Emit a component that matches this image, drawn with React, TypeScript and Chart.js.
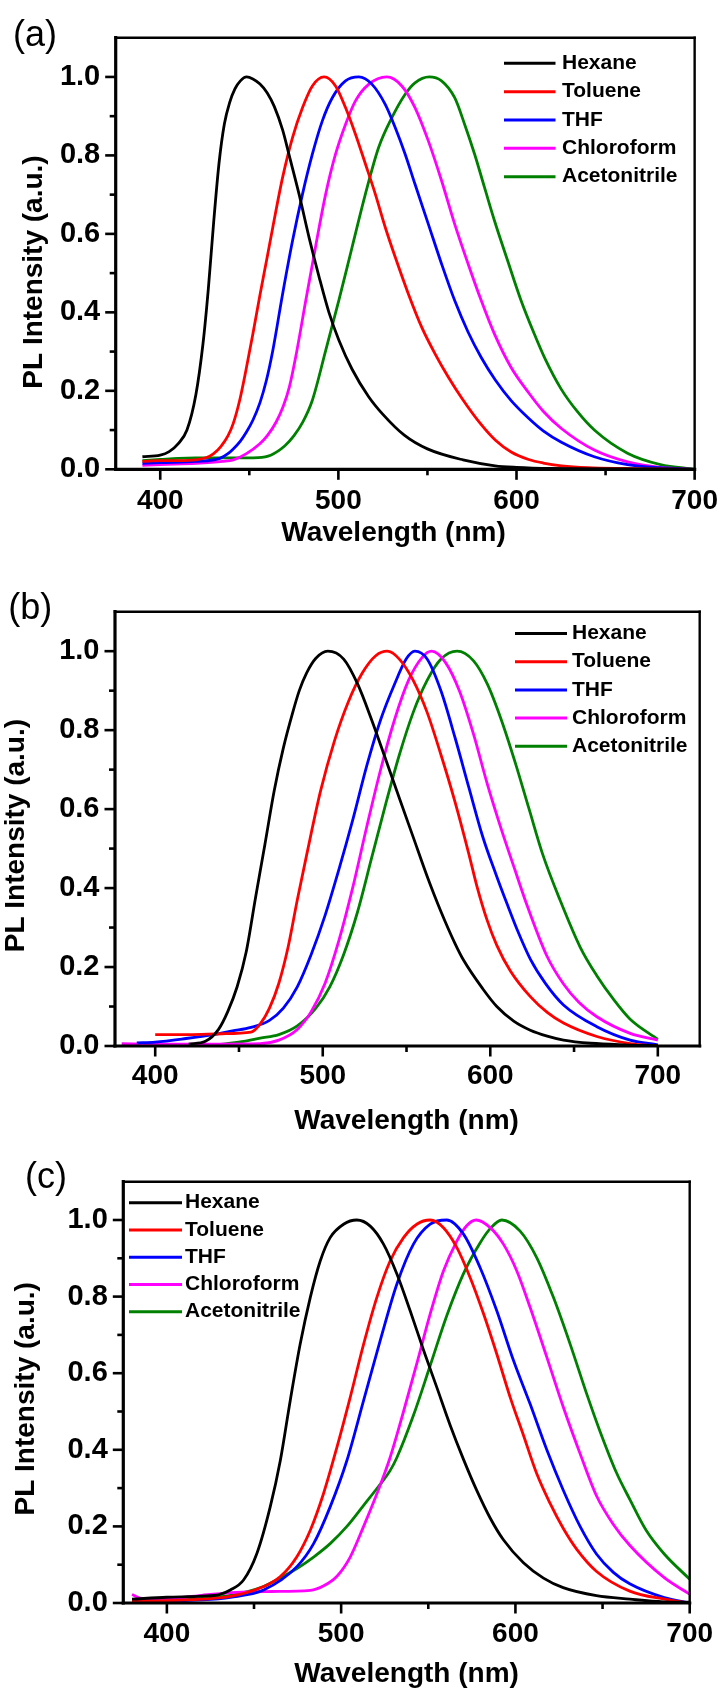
import React, { useEffect, useRef } from "react";
import { Chart, registerables } from "chart.js";

Chart.register(...registerables);

// ---------- text & ticks ----------
const SOLVENTS = ["Hexane", "Toluene", "THF", "Chloroform", "Acetonitrile"];
const COLORS = ["#000000", "#ff0000", "#0000ff", "#ff00ff", "#008000"];
const X_TICKS = [400, 500, 600, 700];
const X_MINOR_TICKS = [450, 550, 650];
const Y_TICKS = [0, 0.2, 0.4, 0.6, 0.8, 1.0];
const Y_MINOR_TICKS = [0.1, 0.3, 0.5, 0.7, 0.9];
const Y_MAX = 1.1;
const X_TITLE = "Wavelength (nm)";
const Y_TITLE = "PL Intensity (a.u.)";
const PANEL_LABELS = ["(a)", "(b)", "(c)"];
const X_RANGES = [
  [375, 700],
  [376, 725],
  [375, 700],
];

// ---------- panel (a) ----------
const A_HEX_X = [390, 400, 405, 410, 415, 420, 424, 427, 430, 433, 436, 439, 442, 445, 448.5, 452, 456, 460, 464, 468.7, 472.4, 478, 483.6, 489.2, 494.7, 500.3, 507.7, 517, 525, 537, 550, 570, 588, 600, 620, 650, 700];
const A_HEX_Y = [0.032, 0.036, 0.045, 0.065, 0.1, 0.19, 0.32, 0.46, 0.63, 0.78, 0.88, 0.935, 0.97, 0.99, 1.0, 0.995, 0.982, 0.96, 0.925, 0.865, 0.8, 0.7, 0.59, 0.49, 0.4, 0.329, 0.255, 0.185, 0.14, 0.087, 0.052, 0.024, 0.009, 0.005, 0.002, 0.001, 0];
const A_TOL_X = [390, 400, 410, 420, 426, 430, 434, 438, 441, 444.6, 448, 452, 455.8, 460, 463.2, 468.7, 474.3, 479.9, 485.4, 492, 498.4, 504, 509.6, 515.2, 520.7, 526.3, 531.9, 539.3, 546.7, 554.2, 561.6, 569.5, 580, 588.2, 597, 606.8, 615, 625.2, 640, 660, 680, 700];
const A_TOL_Y = [0.02, 0.022, 0.022, 0.024, 0.03, 0.04, 0.058, 0.085, 0.117, 0.176, 0.25, 0.345, 0.44, 0.54, 0.617, 0.744, 0.846, 0.922, 0.977, 1.0, 0.977, 0.922, 0.854, 0.778, 0.702, 0.617, 0.541, 0.447, 0.363, 0.295, 0.236, 0.18, 0.115, 0.074, 0.044, 0.025, 0.016, 0.009, 0.004, 0.002, 0.001, 0];
const A_THF_X = [390, 400, 420, 433.5, 438, 441, 445, 448.4, 452, 456, 459.5, 463.2, 468.7, 474.3, 479.9, 485.4, 491, 496.6, 504, 511.5, 518.9, 526.3, 531.9, 537.5, 543, 550.5, 557.9, 565.3, 572.8, 580.2, 588.2, 597, 606.8, 615, 625.2, 643.7, 662.3, 680, 700];
const A_THF_Y = [0.015, 0.017, 0.02, 0.028, 0.04, 0.052, 0.072, 0.095, 0.125, 0.17, 0.225, 0.303, 0.447, 0.583, 0.702, 0.803, 0.888, 0.947, 0.99, 1.0, 0.981, 0.93, 0.871, 0.803, 0.727, 0.625, 0.524, 0.43, 0.35, 0.285, 0.227, 0.175, 0.13, 0.098, 0.069, 0.032, 0.012, 0.004, 0];
const A_CHL_X = [390, 400, 420, 435, 441, 448.4, 455.9, 460, 465, 469, 472.5, 476.2, 481.7, 487.3, 492.9, 498.4, 504, 509.6, 517, 527.2, 535.6, 543, 550.5, 557.9, 565.3, 572.8, 580.2, 587.6, 596.9, 606.8, 615, 625.2, 643.7, 662.3, 680.8, 700];
const A_CHL_Y = [0.01, 0.012, 0.015, 0.02, 0.024, 0.04, 0.065, 0.085, 0.12, 0.16, 0.21, 0.29, 0.43, 0.57, 0.702, 0.803, 0.879, 0.939, 0.981, 1.0, 0.977, 0.922, 0.837, 0.736, 0.625, 0.524, 0.43, 0.345, 0.26, 0.195, 0.148, 0.104, 0.049, 0.019, 0.005, 0];
const A_ACN_X = [390, 400, 410, 420, 440, 455, 462, 470, 475, 480, 485.4, 492.9, 500.3, 507.7, 515.2, 522.6, 530, 537.5, 543, 551, 557.9, 565.3, 570.9, 576.5, 582, 587.6, 595, 602.5, 609.9, 616.2, 625, 634, 643.7, 662.3, 680.8, 700];
const A_ACN_Y = [0.022, 0.025, 0.028, 0.029, 0.029, 0.03, 0.036, 0.06, 0.085, 0.12, 0.176, 0.303, 0.431, 0.566, 0.702, 0.82, 0.896, 0.956, 0.985, 1.0, 0.99, 0.947, 0.879, 0.803, 0.719, 0.634, 0.532, 0.431, 0.346, 0.28, 0.205, 0.148, 0.1, 0.041, 0.012, 0];

// ---------- panel (b) ----------
const B_HEX_X = [420, 430, 437.8, 443.3, 448.9, 454.4, 459.9, 465.5, 471, 476.5, 482.1, 486, 490.4, 495.9, 503, 512.5, 520.8, 529.1, 537.4, 545.7, 554, 562.3, 570.6, 578.9, 584.1, 595.5, 603.9, 614, 623.9, 634, 643.7, 660, 680, 700];
const B_HEX_Y = [0.005, 0.012, 0.042, 0.087, 0.15, 0.24, 0.376, 0.511, 0.646, 0.755, 0.845, 0.9, 0.945, 0.982, 1.0, 0.98, 0.917, 0.827, 0.728, 0.628, 0.529, 0.43, 0.34, 0.26, 0.217, 0.145, 0.1, 0.063, 0.04, 0.025, 0.015, 0.007, 0.003, 0.001];
const B_TOL_X = [400, 420, 440, 457.2, 462.7, 468.2, 473.8, 479.3, 484.8, 490.4, 498.7, 507, 515.3, 523.5, 531.8, 538.5, 545.7, 554, 562.3, 570.6, 578.9, 587, 592, 598, 603.9, 612, 623.9, 634, 643.7, 663.6, 683.5, 700];
const B_TOL_Y = [0.029, 0.029, 0.031, 0.035, 0.056, 0.096, 0.159, 0.25, 0.37, 0.484, 0.646, 0.773, 0.872, 0.944, 0.989, 1.0, 0.98, 0.926, 0.845, 0.737, 0.619, 0.49, 0.405, 0.32, 0.255, 0.19, 0.125, 0.085, 0.058, 0.024, 0.006, 0];
const B_THF_X = [389, 400, 418.4, 435, 446.1, 457.2, 468.2, 476.5, 484.8, 493.1, 501.4, 509.7, 518, 526.3, 534.6, 542.9, 549.8, 555, 562.3, 570.6, 578.9, 587.2, 595.5, 603.8, 610, 616, 623.9, 633, 643.7, 663.6, 683.5, 700];
const B_THF_Y = [0.008, 0.01, 0.019, 0.029, 0.038, 0.047, 0.065, 0.096, 0.15, 0.232, 0.331, 0.448, 0.574, 0.71, 0.827, 0.917, 0.98, 1.0, 0.98, 0.899, 0.782, 0.655, 0.53, 0.43, 0.36, 0.295, 0.22, 0.158, 0.104, 0.049, 0.015, 0.003];
const B_CHL_X = [380, 400, 420, 440, 462.7, 473.8, 484.8, 493.1, 501.4, 509.7, 518, 526.3, 534.6, 542.9, 551.2, 559.5, 565, 573.3, 581.6, 589.9, 598.2, 606.5, 614.8, 620.8, 633.8, 643.7, 653, 663.6, 683.5, 700];
const B_CHL_Y = [0.006, 0.005, 0.005, 0.005, 0.006, 0.015, 0.042, 0.087, 0.159, 0.268, 0.403, 0.556, 0.701, 0.827, 0.926, 0.985, 1.0, 0.971, 0.899, 0.791, 0.664, 0.55, 0.445, 0.37, 0.228, 0.157, 0.11, 0.074, 0.032, 0.015];
const B_ACN_X = [437, 451.6, 462.7, 473.8, 484.8, 495.9, 504.2, 512.5, 520.8, 529.1, 537.4, 545.7, 554, 562.3, 570.6, 580.2, 589.9, 598.2, 606.5, 614.8, 623.1, 631.4, 641.7, 653.7, 663.6, 673.6, 683.5, 700];
const B_ACN_Y = [0.003, 0.011, 0.02, 0.029, 0.051, 0.096, 0.15, 0.232, 0.34, 0.475, 0.61, 0.737, 0.845, 0.926, 0.98, 1.0, 0.976, 0.917, 0.827, 0.719, 0.601, 0.484, 0.369, 0.25, 0.178, 0.118, 0.068, 0.017];

// ---------- panel (c) ----------
const C_HEX_X = [380, 400, 420, 430, 436.4, 444, 451.7, 459.3, 465.1, 470.8, 476.5, 482.3, 488, 493.7, 501.4, 509, 516.7, 524.3, 532, 539.6, 547.3, 554.9, 562.5, 570.2, 577.8, 585.5, 593.1, 604.6, 616.1, 627.4, 646.5, 665.7, 685, 700];
const C_HEX_Y = [0.01, 0.015, 0.018, 0.022, 0.034, 0.06, 0.13, 0.251, 0.372, 0.529, 0.676, 0.798, 0.893, 0.954, 0.989, 1.0, 0.984, 0.937, 0.859, 0.763, 0.66, 0.563, 0.465, 0.375, 0.294, 0.222, 0.165, 0.105, 0.065, 0.04, 0.019, 0.01, 0.003, 0.002];
const C_TOL_X = [380, 400, 420, 436.4, 455.5, 465.1, 474.6, 482.3, 489.9, 497.6, 505.2, 512.9, 520.5, 528.1, 535.8, 543.4, 551.1, 558.7, 566.4, 574, 581.7, 589.3, 597, 604.6, 612.2, 619.9, 627.4, 635.2, 646.4, 665.6, 685.4, 700];
const C_TOL_Y = [0.005, 0.006, 0.01, 0.017, 0.043, 0.069, 0.121, 0.19, 0.286, 0.407, 0.537, 0.676, 0.798, 0.893, 0.954, 0.989, 1.0, 0.98, 0.928, 0.85, 0.755, 0.65, 0.537, 0.438, 0.338, 0.26, 0.195, 0.14, 0.083, 0.031, 0.01, 0];
const C_THF_X = [380, 400, 420, 436.4, 455.5, 474.6, 484.2, 493.7, 503.3, 512.9, 522.4, 532, 541.5, 551.1, 560.6, 570.2, 579.7, 589.3, 598.9, 608.4, 618, 627.4, 637.1, 646.5, 656.2, 665.6, 685.4, 700];
const C_THF_Y = [0.005, 0.005, 0.008, 0.015, 0.034, 0.095, 0.155, 0.251, 0.372, 0.529, 0.685, 0.833, 0.937, 0.989, 1.0, 0.963, 0.876, 0.763, 0.633, 0.52, 0.4, 0.295, 0.2, 0.128, 0.08, 0.05, 0.014, 0];
const C_CHL_X = [380, 385, 390, 400, 420, 440, 460, 482.3, 490, 497.6, 505.2, 512.9, 520.5, 528.1, 535.8, 543.4, 551.1, 558.7, 566.4, 572, 577.5, 585.5, 593.1, 600.8, 608.4, 618, 627.5, 637.1, 646.5, 656.2, 665.7, 685.4, 700];
const C_CHL_Y = [0.022, 0.012, 0.008, 0.01, 0.02, 0.028, 0.03, 0.033, 0.045, 0.07, 0.12, 0.2, 0.285, 0.38, 0.5, 0.625, 0.755, 0.867, 0.945, 0.985, 1.0, 0.98, 0.937, 0.867, 0.772, 0.642, 0.511, 0.39, 0.28, 0.205, 0.15, 0.066, 0.023];
const C_ACN_X = [380, 400, 420, 436.4, 455.5, 465, 474.6, 484.2, 493.7, 503.3, 512.9, 522.4, 528, 532, 541.5, 551.1, 560.6, 570.2, 579.7, 586, 592.2, 602.7, 612.2, 621.8, 631.4, 640.9, 648.4, 658, 665.7, 675, 685.4, 700];
const C_ACN_Y = [0.008, 0.006, 0.012, 0.02, 0.043, 0.065, 0.09, 0.12, 0.155, 0.2, 0.255, 0.31, 0.345, 0.38, 0.49, 0.62, 0.75, 0.86, 0.94, 0.98, 1.0, 0.971, 0.902, 0.798, 0.676, 0.546, 0.45, 0.34, 0.27, 0.19, 0.128, 0.062];

const PANEL_SERIES = [
  [[A_HEX_X, A_HEX_Y], [A_TOL_X, A_TOL_Y], [A_THF_X, A_THF_Y], [A_CHL_X, A_CHL_Y], [A_ACN_X, A_ACN_Y]],
  [[B_HEX_X, B_HEX_Y], [B_TOL_X, B_TOL_Y], [B_THF_X, B_THF_Y], [B_CHL_X, B_CHL_Y], [B_ACN_X, B_ACN_Y]],
  [[C_HEX_X, C_HEX_Y], [C_TOL_X, C_TOL_Y], [C_THF_X, C_THF_Y], [C_CHL_X, C_CHL_Y], [C_ACN_X, C_ACN_Y]],
];

// ---------- layout (pixels, canvas-relative) ----------
const W = 723;
const FONT = "'Liberation Sans', Arial, Helvetica, sans-serif";

type Layout = {
  top: number;
  height: number;
  area: { left: number; right: number; top: number; bottom: number };
  label: { x: number; y: number };
  yTitle: { x: number; y: number };
  xTitle: { x: number; y: number };
  legend: { x1: number; x2: number; tx: number; y0: number; dy: number };
  xPad: number;
};

const LAYOUTS: Layout[] = [
  {
    top: 0,
    height: 560,
    area: { left: 115.7, right: 698.3, top: 37.7, bottom: 469.3 },
    label: { x: 13, y: 45.5 },
    yTitle: { x: 41.7, y: 272 },
    xTitle: { x: 393.5, y: 540.8 },
    legend: { x1: 504, x2: 555.5, tx: 562, y0: 63.3, dy: 28.35 },
    xPad: 5,
  },
  {
    top: 560,
    height: 585,
    area: { left: 115, right: 699.7, top: 51.7, bottom: 486 },
    label: { x: 8.3, y: 59 },
    yTitle: { x: 24.1, y: 275.6 },
    xTitle: { x: 406.6, y: 569 },
    legend: { x1: 515, x2: 567, tx: 572, y0: 73.5, dy: 28.2 },
    xPad: 3.5,
  },
  {
    top: 1145,
    height: 546,
    area: { left: 123.3, right: 689.7, top: 36.7, bottom: 458 },
    label: { x: 25, y: 42.5 },
    yTitle: { x: 34.1, y: 253.8 },
    xTitle: { x: 406.6, y: 537 },
    legend: { x1: 129, x2: 182, tx: 185, y0: 57.7, dy: 27.25 },
    xPad: 4.5,
  },
];

function makeDecor(idx: number) {
  const L = LAYOUTS[idx];
  return {
    id: "decor" + idx,
    afterDatasetsDraw(chart: any) {
      const { ctx, chartArea: a, scales } = chart;
      const xs = scales.x;
      const ys = scales.y;
      ctx.save();
      ctx.strokeStyle = "#000";
      ctx.lineCap = "butt";
      const seg = (x1: number, y1: number, x2: number, y2: number) => {
        ctx.beginPath();
        ctx.moveTo(x1, y1);
        ctx.lineTo(x2, y2);
        ctx.stroke();
      };
      ctx.lineWidth = 2.6;
      X_TICKS.forEach((v) => {
        const p = xs.getPixelForValue(v);
        seg(p, a.bottom, p, a.bottom + 10.5);
      });
      X_MINOR_TICKS.forEach((v) => {
        const p = xs.getPixelForValue(v);
        seg(p, a.bottom, p, a.bottom + 6);
      });
      Y_TICKS.forEach((v) => {
        const p = ys.getPixelForValue(v);
        seg(a.left - 10.5, p, a.left, p);
      });
      Y_MINOR_TICKS.forEach((v) => {
        const p = ys.getPixelForValue(v);
        seg(a.left - 6, p, a.left, p);
      });
      // frame
      ctx.lineCap = "square";
      ctx.lineWidth = 2.4;
      seg(a.left, a.top, a.right, a.top);
      seg(a.right, a.top, a.right, a.bottom);
      ctx.lineWidth = 3.2;
      seg(a.left, a.top, a.left, a.bottom);
      seg(a.left, a.bottom, a.right, a.bottom);
      ctx.restore();
    },
    afterDraw(chart: any) {
      const { ctx } = chart;
      ctx.save();
      ctx.fillStyle = "#000";
      // panel label
      ctx.font = `36px ${FONT}`;
      ctx.textAlign = "left";
      ctx.textBaseline = "alphabetic";
      ctx.fillText(PANEL_LABELS[idx], L.label.x, L.label.y);
      // axis titles
      ctx.font = `bold 28px ${FONT}`;
      ctx.textAlign = "center";
      ctx.fillText(X_TITLE, L.xTitle.x, L.xTitle.y);
      ctx.save();
      ctx.translate(L.yTitle.x, L.yTitle.y);
      ctx.rotate(-Math.PI / 2);
      ctx.fillText(Y_TITLE, 0, 0);
      ctx.restore();
      // legend
      const lg = L.legend;
      ctx.font = `bold 21px ${FONT}`;
      ctx.textAlign = "left";
      ctx.textBaseline = "middle";
      SOLVENTS.forEach((name, i) => {
        const y = lg.y0 + i * lg.dy;
        ctx.strokeStyle = COLORS[i];
        ctx.lineWidth = 3;
        ctx.beginPath();
        ctx.moveTo(lg.x1, y);
        ctx.lineTo(lg.x2, y);
        ctx.stroke();
        ctx.fillStyle = "#000";
        ctx.fillText(name, lg.tx, y);
      });
      ctx.restore();
    },
  };
}

function Panel({ idx }: { idx: number }) {
  const ref = useRef<HTMLCanvasElement | null>(null);
  const L = LAYOUTS[idx];
  useEffect(() => {
    if (!ref.current) return;
    const series = PANEL_SERIES[idx];
    const datasets = series.map(([xs, ys], i) => ({
      label: SOLVENTS[i],
      data: xs.map((x: number, k: number) => ({ x, y: ys[k] })),
      borderColor: COLORS[i],
      backgroundColor: COLORS[i],
      borderWidth: 2.8,
      pointRadius: 0,
      fill: false,
      cubicInterpolationMode: "monotone" as const,
    }));
    const transparent = "rgba(0,0,0,0)";
    const chart = new Chart(ref.current, {
      type: "line",
      data: { datasets },
      options: {
        responsive: false,
        maintainAspectRatio: false,
        animation: false,
        devicePixelRatio: 1,
        events: [],
        layout: {
          autoPadding: false,
          padding: { top: L.area.top, right: W - L.area.right, left: 0, bottom: 0 },
        },
        plugins: {
          legend: { display: false },
          tooltip: { enabled: false },
          title: { display: false },
        },
        scales: {
          x: {
            type: "linear",
            min: X_RANGES[idx][0],
            max: X_RANGES[idx][1],
            afterBuildTicks: (s: any) => {
              s.ticks = X_TICKS.map((v) => ({ value: v }));
            },
            afterFit: (s: any) => {
              s.height = L.height - L.area.bottom;
            },
            grid: {
              display: true,
              drawOnChartArea: false,
              drawTicks: true,
              tickLength: 10,
              color: transparent,
              tickColor: transparent,
            },
            border: { display: false },
            ticks: {
              autoSkip: false,
              maxRotation: 0,
              padding: L.xPad,
              color: "#000",
              font: { family: FONT, size: 28, weight: "bold" },
              callback: (v: any) => String(v),
            },
          },
          y: {
            type: "linear",
            min: 0,
            max: Y_MAX,
            afterBuildTicks: (s: any) => {
              s.ticks = Y_TICKS.map((v) => ({ value: v }));
            },
            afterFit: (s: any) => {
              s.width = L.area.left;
            },
            grid: {
              display: true,
              drawOnChartArea: false,
              drawTicks: true,
              tickLength: 10,
              color: transparent,
              tickColor: transparent,
            },
            border: { display: false },
            ticks: {
              autoSkip: false,
              padding: 5.5,
              color: "#000",
              font: { family: FONT, size: 29, weight: "bold" },
              callback: (v: any) => Number(v).toFixed(1),
            },
          },
        },
      },
      plugins: [makeDecor(idx)],
    } as any);
    return () => chart.destroy();
  }, [idx]);
  return (
    <canvas
      ref={ref}
      width={W}
      height={L.height}
      style={{ position: "absolute", left: 0, top: L.top, width: W, height: L.height }}
    />
  );
}

export default function App() {
  return (
    <div style={{ position: "absolute", left: 0, top: 0, width: W, height: 1691, background: "#fff" }}>
      {[0, 1, 2].map((i) => (
        <Panel key={i} idx={i} />
      ))}
    </div>
  );
}
